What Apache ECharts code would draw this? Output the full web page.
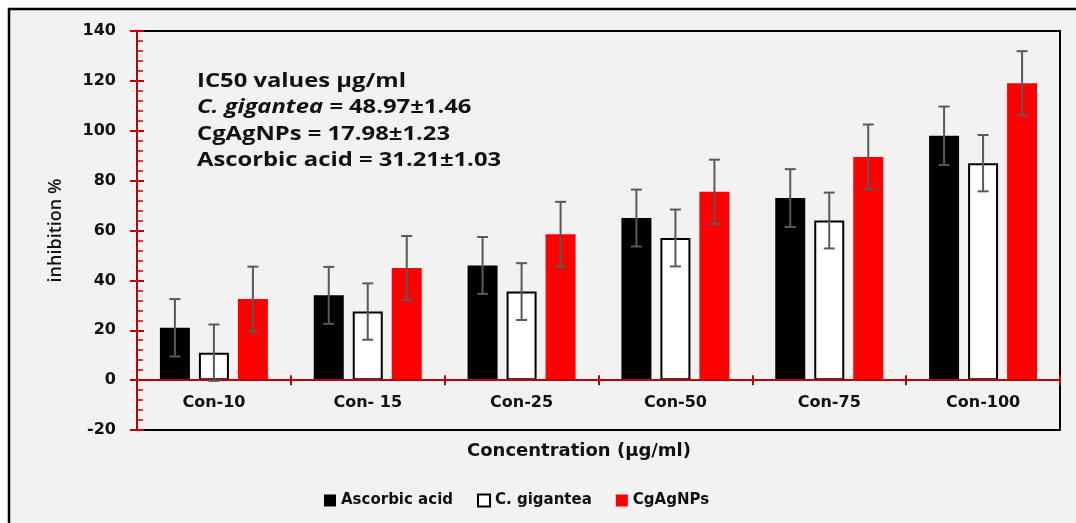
<!DOCTYPE html>
<html>
<head>
<meta charset="utf-8">
<script src="https://cdn.jsdelivr.net/npm/echarts@6/dist/echarts.min.js"></script>
<style>
  html, body { margin: 0; padding: 0; background: #ffffff; }
  #chart { width: 1076px; height: 523px; }
</style>
</head>
<body>
<div id="chart"></div>
<script>
// Concentration groups on the x axis
const categories = ['Con-10', 'Con- 15', 'Con-25', 'Con-50', 'Con-75', 'Con-100'];

// Mean inhibition (%) per group
const ascorbicAcid = [21, 34, 46, 65, 73, 98];
const cGigantea    = [11, 27.5, 35.5, 57, 64, 87];
const cgAgNPs      = [32.5, 45, 58.5, 75.5, 89.5, 119];

// Standard deviations drawn as error bars
const ascorbicErr  = [11.5, 11.4, 11.4, 11.4, 11.6, 11.7];
const giganteaErr  = [11.3, 11.3, 11.4, 11.4, 11.2, 11.3];
const cgAgNPsErr   = [13, 12.8, 13, 12.9, 13, 12.9];

// Y axis range and step
const yMin = -20, yMax = 140, yStep = 20;

const seriesNames = ['Ascorbic acid', 'C. gigantea', 'CgAgNPs'];
const BAR_W = 30, BAR_GAP = '30%';
const RED = '#C00000';
const LABEL_FONT = 'DejaVu Sans';

const chart = echarts.init(document.getElementById('chart'), null, { renderer: 'canvas' });

function errorSeries(idx, means, errs) {
  return {
    type: 'custom',
    name: seriesNames[idx] + ' SD',
    xAxisIndex: 0, yAxisIndex: 0,
    z: 5,
    silent: true,
    data: means.map((m, i) => [i, m, errs[i]]),
    renderItem: function (params, api) {
      const cat = api.value(0), mean = api.value(1), sd = api.value(2);
      const layout = api.barLayout({ count: 3, barWidth: BAR_W, barGap: BAR_GAP });
      const center = api.coord([cat, mean]);
      const x = center[0] + layout[idx].offsetCenter;
      const top = api.coord([cat, mean + sd])[1];
      const bot = api.coord([cat, mean - sd])[1];
      const half = 5.5;
      const st = { stroke: '#595959', lineWidth: 2 };
      return {
        type: 'group',
        children: [
          { type: 'line', shape: { x1: x, y1: top, x2: x, y2: bot }, style: st },
          { type: 'line', shape: { x1: x - half, y1: top, x2: x + half, y2: top }, style: st },
          { type: 'line', shape: { x1: x - half, y1: bot, x2: x + half, y2: bot }, style: st }
        ]
      };
    }
  };
}

const option = {
  animation: false,
  backgroundColor: '#ffffff',
  graphic: [
    {
      type: 'rect', z: -10, silent: true,
      shape: { x: 9, y: 9, width: 1200, height: 700 },
      style: { fill: '#F2F2F2', stroke: '#000000', lineWidth: 2.5 }
    },
    {
      type: 'text', z: 10, silent: true,
      x: 197, y: 68, scaleX: 1.19,
      style: {
        text: 'IC50 values µg/ml\n{i|C. gigantea =} 48.97±1.46\nCgAgNPs = 17.98±1.23\nAscorbic acid = 31.21±1.03',
        fontFamily: 'Open Sans', fontWeight: 'bold', fontSize: 20,
        lineHeight: 26.5, fill: '#111111',
        rich: {
          i: { fontFamily: 'Open Sans', fontWeight: 'bold', fontStyle: 'italic', fontSize: 20, lineHeight: 26.5, fill: '#111111' }
        }
      }
    },
    {
      type: 'text', z: 10, silent: true,
      left: 467, top: 442,
      style: {
        text: 'Concentration (µg/ml)',
        fontFamily: LABEL_FONT, fontWeight: 'bold', fontSize: 18, fill: '#111111'
      }
    }
  ],
  legend: {
    data: seriesNames,
    left: 319, top: 488,
    icon: 'rect', itemWidth: 12, itemHeight: 12, itemGap: 24,
    textStyle: { fontFamily: LABEL_FONT, fontWeight: 'bold', fontSize: 15, color: '#111111' }
  },
  grid: {
    left: 137, top: 31, right: 16, bottom: 93,
    show: true, borderColor: '#000000', borderWidth: 2, backgroundColor: 'transparent'
  },
  xAxis: [
    {
      type: 'category', data: categories, position: 'bottom', z: 3,
      axisLine: { onZero: true, onZeroAxisIndex: 0, lineStyle: { color: RED, width: 2 } },
      axisTick: { show: true, inside: false, length: 5, lineStyle: { color: RED, width: 2 } },
      // category names sit just under the zero line, inside the plot frame
      axisLabel: { margin: -35, fontFamily: LABEL_FONT, fontWeight: 'bold', fontSize: 16, color: '#111111' },
      splitLine: { show: false }
    },
    {
      type: 'category', data: categories, position: 'bottom', z: 3,
      axisLine: { onZero: true, onZeroAxisIndex: 1, lineStyle: { color: RED, width: 2 } },
      axisTick: { show: true, inside: true, length: 5, lineStyle: { color: RED, width: 2 } },
      axisLabel: { show: false },
      splitLine: { show: false }
    }
  ],
  yAxis: [
    {
      type: 'value', min: yMin, max: yMax, interval: yStep, position: 'left', z: 3,
      name: 'inhibition %', nameLocation: 'middle', nameGap: 72, nameRotate: 90,
      nameTextStyle: { fontFamily: 'Open Sans', fontWeight: 600, fontSize: 18, color: '#111111' },
      axisLine: { show: true, lineStyle: { color: RED, width: 2 } },
      axisTick: { show: true, inside: false, length: 7, lineStyle: { color: RED, width: 2 } },
      axisLabel: { margin: 21, fontFamily: LABEL_FONT, fontWeight: 'bold', fontSize: 16, color: '#111111' },
      splitLine: { show: false }
    },
    {
      type: 'value', min: yMin, max: yMax, interval: yStep, position: 'left', z: 3,
      axisLine: { show: true, lineStyle: { color: RED, width: 2 } },
      axisTick: { show: true, inside: true, length: 7, lineStyle: { color: RED, width: 2 } },
      minorTick: { show: true, splitNumber: 5, length: 6, lineStyle: { color: RED, width: 1.5 } },
      axisLabel: { show: false },
      splitLine: { show: false }
    }
  ],
  series: [
    {
      name: seriesNames[0], type: 'bar', xAxisIndex: 0, yAxisIndex: 0,
      barWidth: BAR_W, barGap: BAR_GAP, data: ascorbicAcid,
      itemStyle: { color: '#000000' }
    },
    {
      name: seriesNames[1], type: 'bar', xAxisIndex: 0, yAxisIndex: 0,
      barWidth: BAR_W, barGap: BAR_GAP, data: cGigantea,
      itemStyle: { color: '#ffffff', borderColor: '#000000', borderWidth: 2 }
    },
    {
      name: seriesNames[2], type: 'bar', xAxisIndex: 0, yAxisIndex: 0,
      barWidth: BAR_W, barGap: BAR_GAP, data: cgAgNPs,
      itemStyle: { color: '#FF0000' }
    },
    errorSeries(0, ascorbicAcid, ascorbicErr),
    errorSeries(1, cGigantea, giganteaErr),
    errorSeries(2, cgAgNPs, cgAgNPsErr)
  ]
};

chart.setOption(option);
</script>
</body>
</html>
